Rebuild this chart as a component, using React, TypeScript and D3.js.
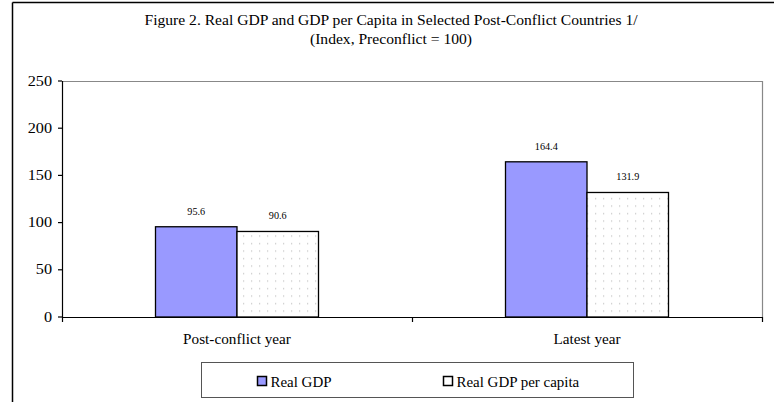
import React from "react";
import * as d3 from "d3";

const categories = ["Post-conflict year", "Latest year"];
const seriesNames = ["Real GDP", "Real GDP per capita"];
const realGdp = [95.6, 164.4];
const realGdpPerCapita = [90.6, 131.9];
const yTicks = [0, 50, 100, 150, 200, 250];
const titleLines = [
  "Figure 2.  Real GDP and GDP per Capita in Selected Post-Conflict Countries 1/",
  "(Index, Preconflict = 100)",
];

const W = 774;
const H = 402;
const plot = { left: 62, right: 762, top: 81, bottom: 317 };
const FONT = "Liberation Serif, Times New Roman, DejaVu Serif, serif";
const BLUE = "#9999FF";

type LabelProps = {
  x: number;
  y: number;
  size: number;
  sx?: number;
  anchor?: "start" | "middle" | "end";
  children: React.ReactNode;
};

// Text with a slight horizontal stretch, anchored at (x, y)
function Label({ x, y, size, sx = 1, anchor = "start", children }: LabelProps) {
  return (
    <text
      transform={`translate(${x},${y}) scale(${sx},1)`}
      fontSize={size}
      textAnchor={anchor}
      fill="#000"
    >
      {children}
    </text>
  );
}

export default function App() {
  const x0 = d3
    .scaleBand<string>()
    .domain(categories)
    .range([plot.left, plot.right]);
  const groupW = 163;
  const x1 = d3
    .scaleBand<string>()
    .domain(seriesNames)
    .range([0, groupW]);
  const y = d3.scaleLinear().domain([0, 250]).range([plot.bottom, plot.top]);

  const series = [
    { name: seriesNames[0], values: realGdp, fill: BLUE },
    { name: seriesNames[1], values: realGdpPerCapita, fill: "url(#dots)" },
  ];

  const xTickPositions = [plot.left, ...categories.slice(1).map((c) => x0(c)!), plot.right];

  return (
    <svg
      width={W}
      height={H}
      style={{ position: "absolute", left: 0, top: 0, background: "#fff", fontFamily: FONT }}
    >
      <defs>
        <pattern id="dots" width={8} height={7.5} patternUnits="userSpaceOnUse">
          <rect width={8} height={7.5} fill="#fff" />
          <rect x={3} y={3} width={1.2} height={1.2} fill="#c4c4c4" />
        </pattern>
      </defs>

      {/* outer frame */}
      <line x1={12.5} y1={2.5} x2={W} y2={2.5} stroke="#000" strokeWidth={1.5} />
      <line x1={12.5} y1={2.5} x2={12.5} y2={H} stroke="#000" strokeWidth={1.5} />

      {/* title */}
      {titleLines.map((t, i) => (
        <Label key={i} x={391} y={25 + i * 18.5} size={15} sx={1.04} anchor="middle">
          {t}
        </Label>
      ))}

      {/* plot area border */}
      <line x1={plot.left} y1={plot.top + 0.5} x2={plot.right} y2={plot.top + 0.5} stroke="#888" strokeWidth={1.2} />
      <line x1={plot.right + 0.5} y1={plot.top} x2={plot.right + 0.5} y2={plot.bottom} stroke="#888" strokeWidth={1.2} />

      {/* bars */}
      {categories.map((c, ci) => {
        const gx = x0(c)! + (x0.bandwidth() - groupW) / 2;
        return (
          <g key={c}>
            {series.map((s) => {
              const bx = gx + x1(s.name)!;
              const v = s.values[ci];
              return (
                <g key={s.name}>
                  <rect
                    x={bx}
                    y={y(v)}
                    width={x1.bandwidth()}
                    height={y(0) - y(v)}
                    fill={s.fill}
                    stroke="#000"
                    strokeWidth={1.3}
                  />
                  <Label x={bx + x1.bandwidth() / 2} y={y(v) - 12} size={10.2} anchor="middle">
                    {v.toFixed(1)}
                  </Label>
                </g>
              );
            })}
          </g>
        );
      })}

      {/* y axis */}
      <line x1={plot.left + 0.5} y1={plot.top} x2={plot.left + 0.5} y2={plot.bottom} stroke="#000" strokeWidth={1.2} />
      {yTicks.map((t) => (
        <g key={t}>
          <line x1={plot.left - 4} y1={y(t)} x2={plot.left} y2={y(t)} stroke="#000" strokeWidth={1.2} />
          <Label x={52} y={y(t) + 4.5} size={14.5} sx={1.12} anchor="end">
            {t}
          </Label>
        </g>
      ))}

      {/* x axis */}
      <line x1={plot.left} y1={plot.bottom + 0.5} x2={plot.right + 1} y2={plot.bottom + 0.5} stroke="#000" strokeWidth={1.2} />
      {xTickPositions.map((p, i) => (
        <line key={i} x1={p + 0.5} y1={plot.bottom} x2={p + 0.5} y2={plot.bottom + 5} stroke="#000" strokeWidth={1.2} />
      ))}
      {categories.map((c) => (
        <Label key={c} x={x0(c)! + x0.bandwidth() / 2} y={344} size={14.5} sx={1.05} anchor="middle">
          {c}
        </Label>
      ))}

      {/* legend */}
      <rect x={201.5} y={362.5} width={432} height={35} fill="#fff" stroke="#555" strokeWidth={1} />
      {series.map((s, i) => {
        const lx = [257, 443][i];
        return (
          <g key={s.name}>
            <rect x={lx + 0.5} y={376.5} width={9} height={9} fill={s.fill === BLUE ? BLUE : "#fff"} stroke="#000" strokeWidth={1.5} />
            <Label x={lx + 13.5} y={386.5} size={13.6} sx={1.1}>
              {s.name}
            </Label>
          </g>
        );
      })}
    </svg>
  );
}
